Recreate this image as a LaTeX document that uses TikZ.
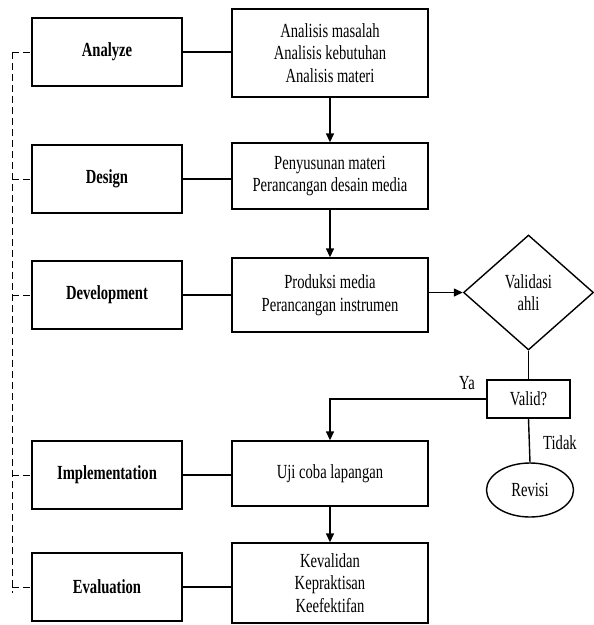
\documentclass[tikz,border=0pt]{standalone}
\usepackage{fontspec}
\setmainfont{Liberation Serif}[FakeStretch=0.73]
\usepackage{tikz}
\usetikzlibrary{shapes.geometric,arrows.meta,positioning,calc}

\begin{document}
\begin{tikzpicture}[
  x=1pt,y=-1pt,
  line width=1.4pt,
  phasebox/.style={draw,minimum width=150pt,minimum height=68pt,font=\fontsize{20}{22.5}\selectfont\bfseries,align=center},
  actbox/.style={draw,minimum width=196pt,font=\fontsize{20}{22.5}\selectfont,align=center},
  decide/.style={draw,diamond,minimum width=130pt,minimum height=115pt,inner sep=0pt,font=\fontsize{20}{22.5}\selectfont,align=center},
  check/.style={draw,minimum width=83pt,minimum height=38pt,inner sep=0pt,font=\fontsize{20}{22.5}\selectfont},
  redo/.style={draw,ellipse,minimum width=87pt,minimum height=54pt,inner sep=0pt,font=\fontsize{20}{22.5}\selectfont},
  lbl/.style={font=\fontsize{20}{22}\selectfont},
  flow/.style={-{Triangle[length=9pt,width=8pt]}},
  link/.style={line width=0.8pt,dash pattern=on 7pt off 4pt},
]
  \useasboundingbox (0,0) rectangle (594,625);

  % tahapan ADDIE
  \node[phasebox] (analyze) at (107,52)  {Analyze};
  \node[phasebox] (design)  at (107,179) {Design};
  \node[phasebox] (develop) at (107,295) {Development};
  \node[phasebox] (implem)  at (107,475) {Implementation};
  \node[phasebox] (evalu)   at (107,587) {Evaluation};

  % kegiatan tiap tahap
  \node[actbox,minimum height=88pt] (act1) at (330,53)    {Analisis masalah\\Analisis kebutuhan\\Analisis materi};
  \node[actbox,minimum height=66pt] (act2) at (330,176)   {Penyusunan materi\\Perancangan desain media};
  \node[actbox,minimum height=74pt] (act3) at (330,295)   {Produksi media\\Perancangan instrumen};
  \node[actbox,minimum height=65pt] (act4) at (330,473.5) {Uji coba lapangan};
  \node[actbox,minimum height=80pt] (act5) at (330,583)   {Kevalidan\\Kepraktisan\\Keefektifan};

  % validasi
  \node[decide] (valid) at (528.5,292.5) {Validasi\\ahli};
  \node[check]  (cek)   at (528.5,399) {Valid?};
  \node[redo]   (revisi) at (530,490)  {Revisi};
  \node[lbl] (ya)    at (467,383) {Ya};
  \node[lbl] (tidak) at (560,443) {Tidak};

  \foreach \p/\a in {analyze/act1,design/act2,develop/act3,implem/act4,evalu/act5} {
    \draw (\p.east) -- (\p.east -| \a.west);
  }
  \draw[flow] (act1) -- (act2);
  \draw[flow] (act2) -- (act3);
  \draw[flow] (act3.east |- valid) -- (valid.west);
  \draw (valid.south) -- (cek.north);
  \draw[flow] (cek.west) -| (act4.north);
  \draw (cek.south) -- (revisi.north);
  \draw[flow] (act4) -- (act5);

  % garis putus-putus
  \coordinate (dtop) at (12,52);
  \coordinate (dbot) at (12,593);
  \draw[link] (dtop) -- (dbot);
  \foreach \p in {analyze,design,develop,implem,evalu} {
    \draw[link] (\p.west -| dtop) -- (\p.west);
  }
\end{tikzpicture}
\end{document}
